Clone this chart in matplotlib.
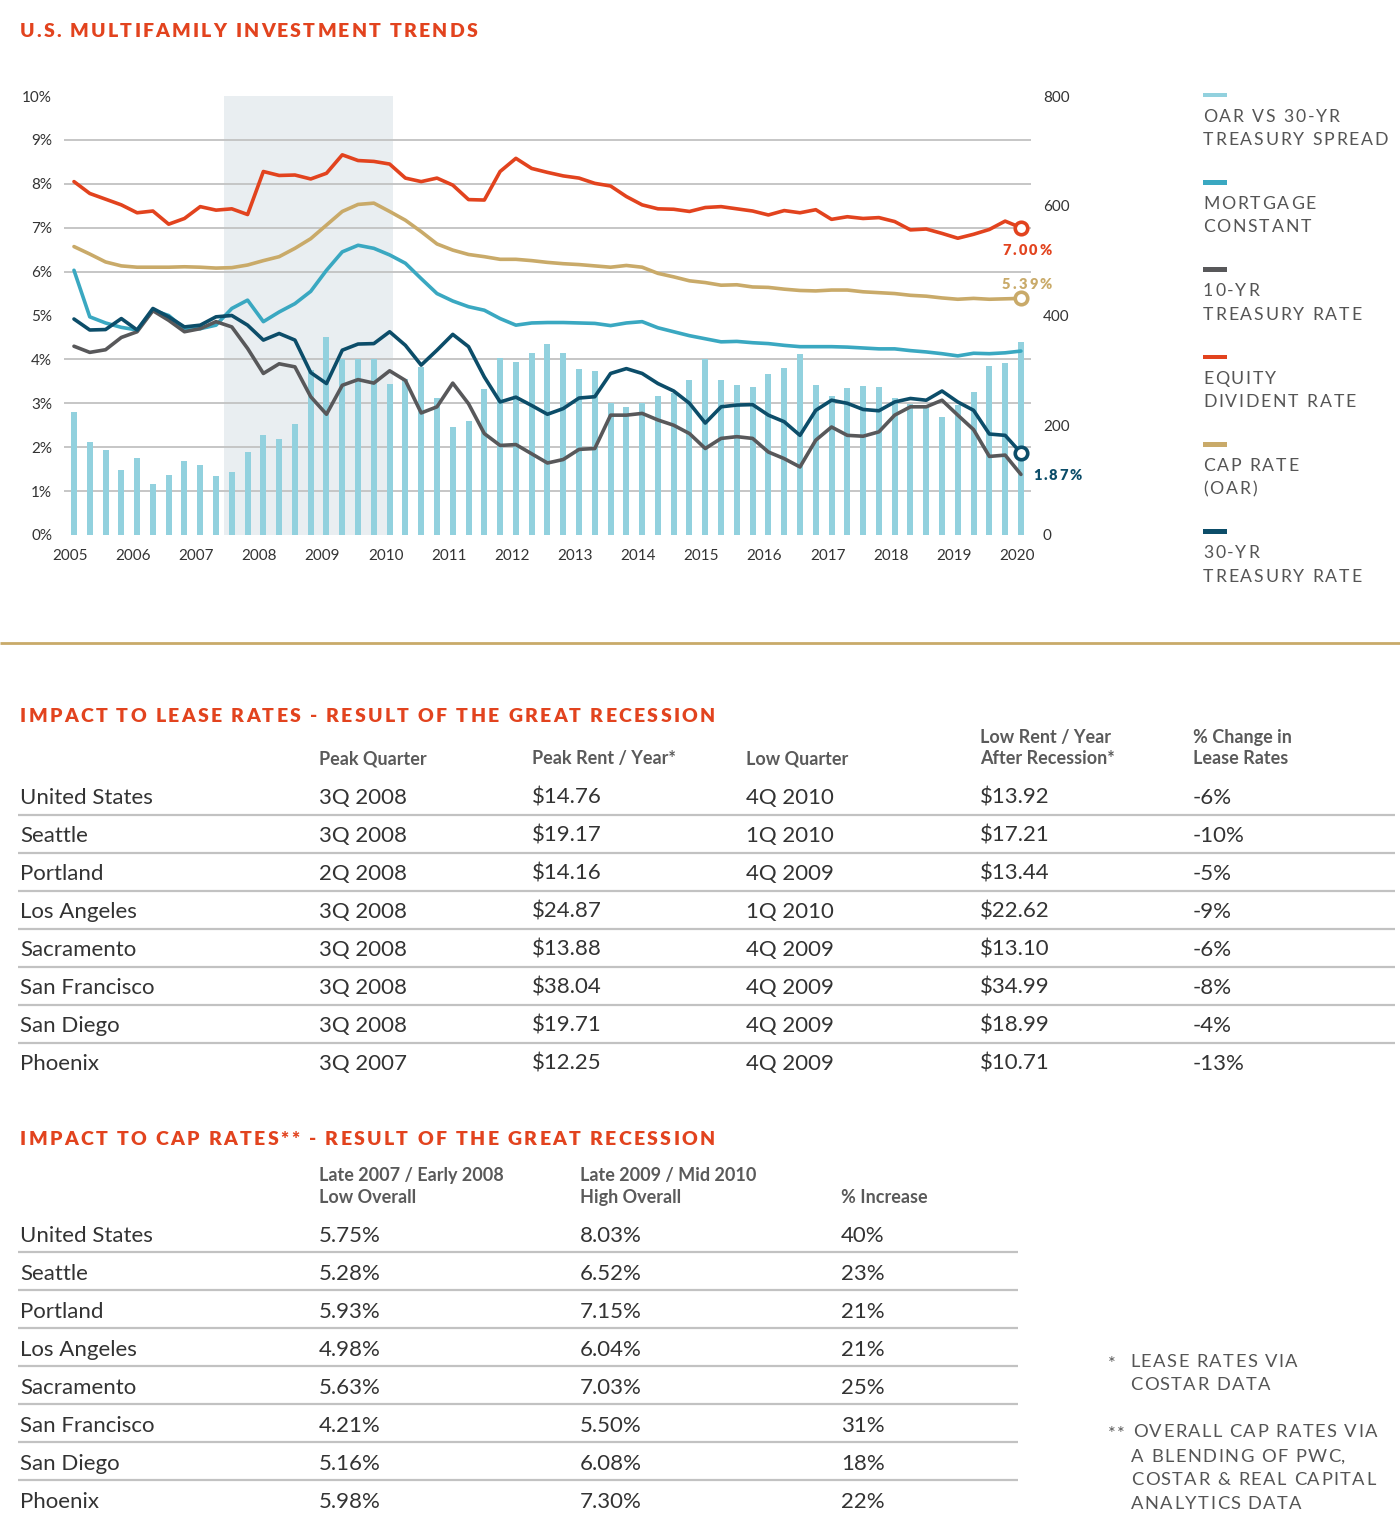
import matplotlib
matplotlib.use("Agg")
import matplotlib.pyplot as plt
from matplotlib.patches import Rectangle
from matplotlib.lines import Line2D
from matplotlib.font_manager import FontProperties, findfont
from matplotlib.ft2font import FT2Font

# ---------------- DATA ----------------
years = list(range(2005, 2021))
quarters = [(y, q) for y in range(2005, 2021) for q in range(1, 5)][:61]   # 2005Q1 .. 2020Q1

spread_bps = [225, 169, 154, 119, 141, 93, 110, 135, 128, 108,
              114, 152, 183, 175, 203, 301, 360, 320, 320, 320,
              276, 285, 307, 249, 197, 207, 266, 323, 315, 331,
              348, 331, 302, 298, 240, 234, 240, 253, 259, 282,
              320, 282, 274, 270, 293, 304, 329, 274, 253, 268,
              272, 270, 249, 238, 236, 215, 237, 261, 308, 314,
              352]

equity_dividend = [8.05, 7.78, 7.65, 7.52, 7.34, 7.38, 7.08, 7.21, 7.48, 7.40,
                   7.43, 7.30, 8.28, 8.19, 8.20, 8.11, 8.24, 8.66, 8.53, 8.51,
                   8.45, 8.13, 8.05, 8.13, 7.97, 7.64, 7.63, 8.28, 8.58, 8.35,
                   8.26, 8.18, 8.13, 8.01, 7.95, 7.71, 7.52, 7.43, 7.42, 7.37,
                   7.46, 7.48, 7.43, 7.38, 7.29, 7.39, 7.34, 7.41, 7.19, 7.25,
                   7.21, 7.23, 7.14, 6.95, 6.97, 6.87, 6.76, 6.85, 6.96, 7.15,
                   7.00]

cap_rate = [6.57, 6.40, 6.22, 6.13, 6.10, 6.10, 6.10, 6.11, 6.10, 6.08,
            6.09, 6.15, 6.25, 6.34, 6.53, 6.75, 7.06, 7.37, 7.53, 7.56,
            7.37, 7.17, 6.91, 6.63, 6.49, 6.39, 6.34, 6.28, 6.28, 6.25,
            6.21, 6.18, 6.16, 6.13, 6.10, 6.14, 6.10, 5.96, 5.88, 5.79,
            5.75, 5.69, 5.70, 5.65, 5.64, 5.60, 5.57, 5.56, 5.58, 5.58,
            5.54, 5.52, 5.50, 5.46, 5.44, 5.40, 5.37, 5.39, 5.37, 5.38,
            5.39]

mortgage_constant = [6.03, 4.97, 4.83, 4.73, 4.67, 5.12, 5.00, 4.70, 4.70, 4.78,
                     5.16, 5.35, 4.86, 5.08, 5.27, 5.55, 6.03, 6.45, 6.60, 6.53,
                     6.38, 6.19, 5.84, 5.50, 5.33, 5.20, 5.12, 4.93, 4.78, 4.83,
                     4.84, 4.84, 4.83, 4.82, 4.77, 4.83, 4.86, 4.72, 4.63, 4.54,
                     4.47, 4.40, 4.41, 4.38, 4.36, 4.32, 4.29, 4.29, 4.29, 4.28,
                     4.26, 4.24, 4.24, 4.20, 4.17, 4.13, 4.08, 4.14, 4.13, 4.15,
                     4.19]

treasury_30yr = [4.92, 4.67, 4.68, 4.93, 4.67, 5.16, 4.97, 4.74, 4.78, 4.97,
                 5.00, 4.78, 4.44, 4.59, 4.44, 3.70, 3.45, 4.21, 4.35, 4.36,
                 4.63, 4.32, 3.87, 4.21, 4.57, 4.29, 3.60, 3.03, 3.14, 2.95,
                 2.75, 2.88, 3.12, 3.15, 3.68, 3.79, 3.68, 3.45, 3.28, 3.00,
                 2.55, 2.92, 2.96, 2.97, 2.73, 2.58, 2.27, 2.84, 3.07, 3.00,
                 2.86, 2.83, 3.03, 3.11, 3.07, 3.28, 3.03, 2.84, 2.30, 2.27,
                 1.87]

treasury_10yr = [4.30, 4.16, 4.22, 4.50, 4.63, 5.11, 4.89, 4.63, 4.70, 4.86,
                 4.74, 4.25, 3.68, 3.90, 3.83, 3.15, 2.75, 3.41, 3.54, 3.46,
                 3.74, 3.52, 2.78, 2.92, 3.46, 2.99, 2.31, 2.04, 2.06, 1.85,
                 1.64, 1.72, 1.95, 1.97, 2.73, 2.73, 2.77, 2.62, 2.50, 2.31,
                 1.97, 2.20, 2.24, 2.20, 1.89, 1.74, 1.55, 2.16, 2.46, 2.27,
                 2.25, 2.35, 2.73, 2.92, 2.92, 3.07, 2.73, 2.40, 1.79, 1.82,
                 1.38]

end_labels = {"equity": "7.00%", "cap": "5.39%", "t30": "1.87%"}

legend_labels = [["OAR VS 30-YR", "TREASURY SPREAD"],
                 ["MORTGAGE", "CONSTANT"],
                 ["10-YR", "TREASURY RATE"],
                 ["EQUITY", "DIVIDENT RATE"],
                 ["CAP RATE", "(OAR)"],
                 ["30-YR", "TREASURY RATE"]]

cities = ["United States", "Seattle", "Portland", "Los Angeles", "Sacramento",
          "San Francisco", "San Diego", "Phoenix"]
peak_quarter = ["3Q 2008", "3Q 2008", "2Q 2008", "3Q 2008", "3Q 2008", "3Q 2008", "3Q 2008", "3Q 2007"]
peak_rent = [14.76, 19.17, 14.16, 24.87, 13.88, 38.04, 19.71, 12.25]
low_quarter = ["4Q 2010", "1Q 2010", "4Q 2009", "1Q 2010", "4Q 2009", "4Q 2009", "4Q 2009", "4Q 2009"]
low_rent = [13.92, 17.21, 13.44, 22.62, 13.10, 34.99, 18.99, 10.71]
lease_change = [-6, -10, -5, -9, -6, -8, -4, -13]

cap_low = [5.75, 5.28, 5.93, 4.98, 5.63, 4.21, 5.16, 5.98]
cap_high = [8.03, 6.52, 7.15, 6.04, 7.03, 5.50, 6.08, 7.30]
cap_increase = [40, 23, 21, 21, 25, 31, 18, 22]

# ---------------- STYLE ----------------
RED = "#E2431E"
TAN = "#C9AA69"
TEAL = "#3AA8C1"
NAVY = "#0C4D69"
GRAY = "#58585A"
BAR = "#92D1DE"
SHADE = "#E9EEF1"
GRID = "#C2C2C2"
TXT = "#333333"
SUB = "#555555"
FAM = ["Lato", "DejaVu Sans"]

DPI = 100
W, H = 1400, 1518
plt.rcParams["font.family"] = FAM
fig = plt.figure(figsize=(W / DPI, H / DPI), dpi=DPI)


def fx(px):
    return px / W


def fy(py):
    return 1 - py / H


_fcache = {}


def advances(s, weight, size):
    path = findfont(FontProperties(family="Lato", weight=weight, size=size))
    key = (path, size)
    if key not in _fcache:
        f = FT2Font(path)
        f.set_size(size, DPI)
        _fcache[key] = f
    f = _fcache[key]
    return [f.load_char(ord(c)).linearHoriAdvance / 65536.0 for c in s]


def tracked(x, yc, s, size, color, weight="normal", width=None, tracking=0.0):
    adv = advances(s, weight, size)
    if width is not None and len(s) > 1:
        tracking = (width - sum(adv)) / (len(s) - 1)
    base = yc + 0.716 * size * DPI / 72 / 2
    cx = x
    for c, a in zip(s, adv):
        fig.text(fx(cx), fy(base), c, fontsize=size, color=color, fontweight=weight,
                 family=FAM, ha="left", va="baseline")
        cx += a + tracking
    return tracking


def txt(x, yc, s, size, color, weight="normal", ha="left"):
    base = yc + 0.716 * size * DPI / 72 / 2
    fig.text(fx(x), fy(base), s, fontsize=size, color=color, fontweight=weight,
             family=FAM, ha=ha, va="baseline")


def hline(x0, x1, y, color, lw):
    fig.add_artist(Line2D([fx(x0), fx(x1)], [fy(y), fy(y)], transform=fig.transFigure,
                          color=color, lw=lw, solid_capstyle="butt"))


# ---------------- CHART ----------------
px_per_year = 63.13
x_left, x_right, y_top, y_bot = 64, 1031, 96, 535
ax = fig.add_axes([fx(x_left), fy(y_bot), (x_right - x_left) / W, (y_bot - y_top) / H])
ax.set_xlim(2005 + (x_left - 70) / px_per_year, 2005 + (x_right - 70) / px_per_year)
xq = [y + (q - 1) * 0.25 + 0.063 for (y, q) in quarters]

ax.axvspan(2007.44, 2010.12, color=SHADE, zorder=0, lw=0)
ax.bar(xq, spread_bps, width=0.095, color=BAR, zorder=2, lw=0)
ax.set_ylim(0, 800)
ax.set_yticks([0, 200, 400, 600, 800])
ax.set_yticks([80 * i for i in range(11)], minor=True)
ax.set_axisbelow(True)
ax.yaxis.grid(True, which="minor", color=GRID, lw=1.3)
ax.yaxis.grid(False, which="major")
ax.set_xticks(years)
ax.set_xticklabels([str(y) for y in years])
ax.tick_params(axis="x", length=0, pad=10, labelsize=11, labelcolor=TXT)
for s in ax.spines.values():
    s.set_visible(False)

ax2 = ax.twinx()
ax2.set_ylim(0, 10)
ax2.set_yticks(range(0, 11))
ax2.set_yticklabels([f"{v}%" for v in range(0, 11)])
ax2.yaxis.tick_left()
ax.yaxis.tick_right()
ax.tick_params(axis="y", which="both", length=0, pad=8.6, labelsize=11, labelcolor=TXT,
               left=False, labelleft=False, right=False, labelright=True)
ax2.tick_params(axis="y", length=0, pad=8.6, labelsize=11, labelcolor=TXT,
                left=False, labelleft=True, right=False, labelright=False)
for s in ax2.spines.values():
    s.set_visible(False)

lw = 2.6
kw = dict(lw=lw, solid_capstyle="round", solid_joinstyle="round")
ax2.plot(xq, mortgage_constant, color=TEAL, zorder=3, **kw)
ax2.plot(xq, treasury_10yr, color=GRAY, zorder=3, **kw)
ax2.plot(xq, treasury_30yr, color=NAVY, zorder=4, **kw)
ax2.plot(xq, cap_rate, color=TAN, zorder=4, **kw)
ax2.plot(xq, equity_dividend, color=RED, zorder=4, **kw)
for series, col in [(equity_dividend, RED), (cap_rate, TAN), (treasury_30yr, NAVY)]:
    ax2.plot([xq[-1]], [series[-1]], "o", ms=9, mfc="white", mec=col, mew=2.6, zorder=6)

tracked(1002, 250, end_labels["equity"], 10.5, RED, "heavy", width=50)
tracked(1002, 284, end_labels["cap"], 10.5, TAN, "heavy", width=50)
tracked(1033, 475, end_labels["t30"], 10.5, NAVY, "heavy", width=49)

# title
tracked(20, 30, "U.S. MULTIFAMILY INVESTMENT TRENDS", 14, RED, "heavy", width=457)

# legend
leg_cols = [BAR, TEAL, GRAY, RED, TAN, NAVY]
adv = advances("TREASURY SPREAD", "normal", 12.7)
trk = (185 - sum(adv)) / (len("TREASURY SPREAD") - 1)
for i, (col, (l1, l2)) in enumerate(zip(leg_cols, legend_labels)):
    ym = 95 + 87.3 * i
    fig.add_artist(Rectangle((fx(1203), fy(ym + 2.4)), 24 / W, 4.8 / H,
                             transform=fig.transFigure, color=col, lw=0))
    tracked(1203, ym + 20.3, l1, 12.7, SUB, "normal", tracking=trk)
    tracked(1203, ym + 43.7, l2, 12.7, SUB, "normal", tracking=trk)

# divider
hline(0, 1400, 643, TAN, 2.0)

# ---------------- TABLE 1 ----------------
tracked(20, 715, "IMPACT TO LEASE RATES - RESULT OF THE GREAT RECESSION", 14, RED, "heavy", width=695)
HW = "bold"
HC = "#5a5a5a"
c1 = [20, 319, 532, 746, 980, 1193]
txt(c1[1], 758, "Peak Quarter", 13, HC, HW)
txt(c1[2], 758, "Peak Rent / Year*", 13, HC, HW)
txt(c1[3], 758, "Low Quarter", 13, HC, HW)
txt(c1[4], 737, "Low Rent / Year", 13, HC, HW)
txt(c1[4], 758, "After Recession*", 13, HC, HW)
txt(c1[5], 737, "% Change in", 13, HC, HW)
txt(c1[5], 758, "Lease Rates", 13, HC, HW)
for i in range(len(cities)):
    y = 796 + 38 * i
    vals = [cities[i], peak_quarter[i], f"${peak_rent[i]:.2f}", low_quarter[i],
            f"${low_rent[i]:.2f}", f"{lease_change[i]}%"]
    for x, v in zip(c1, vals):
        txt(x, y, v, 16, TXT)
    if i < len(cities) - 1:
        hline(18, 1395, y + 19, GRID, 1.6)

# ---------------- TABLE 2 ----------------
tracked(20, 1138, "IMPACT TO CAP RATES** - RESULT OF THE GREAT RECESSION", 14, RED, "heavy", width=695)
c2 = [20, 319, 580, 841]
txt(c2[1], 1175, "Late 2007 / Early 2008", 13, HC, HW)
txt(c2[1], 1197, "Low Overall", 13, HC, HW)
txt(c2[2], 1175, "Late 2009 / Mid 2010", 13, HC, HW)
txt(c2[2], 1197, "High Overall", 13, HC, HW)
txt(c2[3], 1197, "% Increase", 13, HC, HW)
for i in range(len(cities)):
    y = 1234 + 38 * i
    vals = [cities[i], f"{cap_low[i]:.2f}%", f"{cap_high[i]:.2f}%", f"{cap_increase[i]}%"]
    for x, v in zip(c2, vals):
        txt(x, y, v, 16, TXT)
    if i < len(cities) - 1:
        hline(18, 1018, y + 18, GRID, 1.6)

# ---------------- FOOTNOTES ----------------
adv = advances("OVERALL CAP RATES VIA", "normal", 13.2)
fn_trk = (244 - sum(adv)) / (len("OVERALL CAP RATES VIA") - 1)
tracked(1108, 1362, "*", 13.2, SUB, "normal")
tracked(1130, 1360, "LEASE RATES VIA", 13.2, SUB, "normal", tracking=fn_trk)
tracked(1130, 1383, "COSTAR DATA", 13.2, SUB, "normal", tracking=fn_trk)
tracked(1108, 1432, "**", 13.2, SUB, "normal", tracking=fn_trk)
tracked(1133, 1430, "OVERALL CAP RATES VIA", 13.2, SUB, "normal", tracking=fn_trk)
tracked(1131, 1455, "A BLENDING OF PWC,", 13.2, SUB, "normal", tracking=fn_trk)
tracked(1131, 1478, "COSTAR & REAL CAPITAL", 13.2, SUB, "normal", tracking=fn_trk)
tracked(1131, 1502, "ANALYTICS DATA", 13.2, SUB, "normal", tracking=fn_trk)

fig.savefig("out.png", dpi=DPI, facecolor="white")
